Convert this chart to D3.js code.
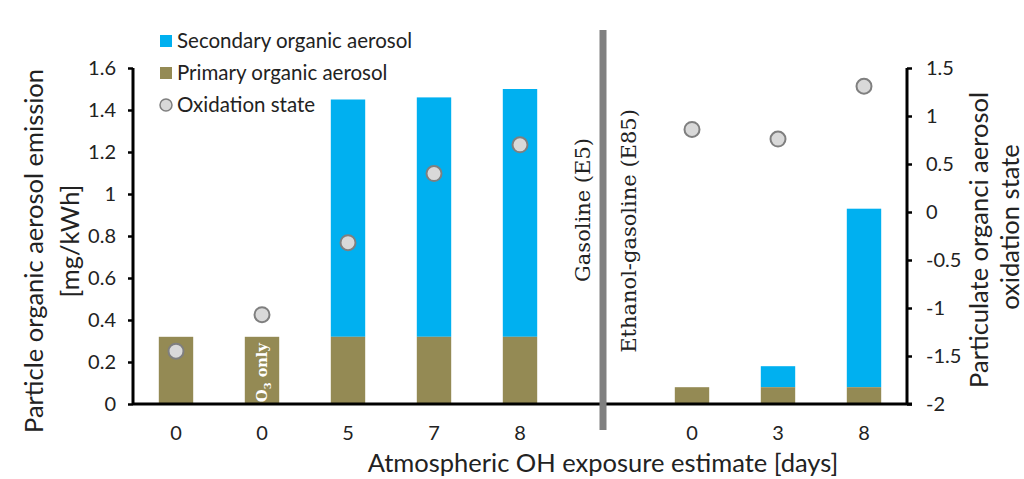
<!DOCTYPE html>
<html><head><meta charset="utf-8">
<script src="https://cdn.jsdelivr.net/npm/d3@7"></script>
<style>body{margin:0;background:#fff}svg{display:block}</style>
</head><body><svg id="c" width="1024" height="479"></svg>
<script>
// ---- data ----
const categories = ["g0a","g0b","g5","g7","g8","gap","e0","e3","e8"];
const tickLabels = ["0","0","5","7","8","","0","3","8"];
const primaryOA   = [0.32,0.32,0.32,0.32,0.32,null,0.08,0.08,0.08];
const totalOA     = [0.32,0.32,1.45,1.46,1.50,null,0.08,0.18,0.93];
const oxidation   = [-1.45,-1.07,-0.32,0.40,0.70,null,0.86,0.76,1.31];
const leftTicks  = [0,0.2,0.4,0.6,0.8,1,1.2,1.4,1.6];
const rightTicks = [-2,-1.5,-1,-0.5,0,0.5,1,1.5];
const legendItems = ["Secondary organic aerosol","Primary organic aerosol","Oxidation state"];

const SOA="#00b0f0", POA="#948a54";
const font="Lato, 'Open Sans', sans-serif";
const serif="'DejaVu Serif', 'Liberation Serif', serif";

const svg=d3.select("#c");
const x0=133,x1=907,yTop=68,yBot=404;
const x=d3.scaleBand().domain(categories).range([x0,x1]).paddingInner(0.6).paddingOuter(0.3);
const y=d3.scaleLinear().domain([0,1.6]).range([yBot,yTop]);
const y2=d3.scaleLinear().domain([-2,1.5]).range([yBot,yTop]);

const idx=d3.range(categories.length).filter(i=>totalOA[i]!==null);
svg.selectAll("rect.soa").data(idx).join("rect").attr("class","soa")
  .attr("x",i=>x(categories[i])).attr("width",x.bandwidth())
  .attr("y",i=>y(totalOA[i])).attr("height",i=>y(primaryOA[i])-y(totalOA[i])).attr("fill",SOA);
svg.selectAll("rect.poa").data(idx).join("rect").attr("class","poa")
  .attr("x",i=>x(categories[i])).attr("width",x.bandwidth())
  .attr("y",i=>y(primaryOA[i])).attr("height",i=>y(0)-y(primaryOA[i])).attr("fill",POA);

// O3 only label
const o3x=x(categories[1])+x.bandwidth()/2+5, o3y=y(0)-2;
const o3=svg.append("text").attr("transform",`translate(${o3x},${o3y}) rotate(-90)`)
  .attr("fill","#fff").attr("font-family",serif).attr("font-weight","bold").attr("font-size",14.5);
o3.append("tspan").text("O");
o3.append("tspan").attr("font-size",10).attr("dy",4).text("3");
o3.append("tspan").attr("dy",-4).text(" only");

// axes
const fmt=d=>String(d);
const yAxis=d3.axisLeft(y).tickValues(leftTicks).tickSize(5).tickPadding(12).tickFormat(fmt);
const gL=svg.append("g").attr("transform",`translate(${x0},0)`).call(yAxis);
const y2Axis=d3.axisRight(y2).tickValues(rightTicks).tickSize(5).tickPadding(14).tickFormat(fmt);
const gR=svg.append("g").attr("transform",`translate(${x1},0)`).call(y2Axis);
const xAxis=d3.axisBottom(x).tickSize(0).tickPadding(22).tickFormat((d,i)=>tickLabels[i]);
const gX=svg.append("g").attr("transform",`translate(0,${yBot})`).call(xAxis);
[gL,gR,gX].forEach(g=>{
  g.selectAll(".domain").attr("stroke","#000").attr("stroke-width",3);
  g.selectAll(".tick line").attr("stroke","#000").attr("stroke-width",2.5);
  g.selectAll("text").attr("font-family",font).attr("font-size",20).attr("fill","#222");
});
gL.select(".domain").attr("d",`M0,${yTop}V${yBot}`);
gR.select(".domain").attr("d",`M0,${yTop}V${yBot}`);
gX.select(".domain").attr("d",`M${x0},0H${x1+5}`);

// divider
const gapC=x("gap")+x.bandwidth()/2-3;
svg.append("rect").attr("x",gapC-3.5).attr("y",30).attr("width",7).attr("height",400).attr("fill","#808080");

// oxidation points
const oi=d3.range(categories.length).filter(i=>oxidation[i]!==null);
svg.selectAll("circle.ox").data(oi).join("circle").attr("class","ox")
  .attr("cx",i=>x(categories[i])+x.bandwidth()/2).attr("cy",i=>y2(oxidation[i]))
  .attr("r",7.5).attr("fill","#d9d9d9").attr("stroke","#7f7f7f").attr("stroke-width",2);

// group labels
svg.append("text").attr("transform",`translate(590,210) rotate(-90)`).attr("text-anchor","middle")
  .attr("font-family",serif).attr("font-size",21).attr("fill","#222").text("Gasoline (E5)");
svg.append("text").attr("transform",`translate(636,231) rotate(-90)`).attr("text-anchor","middle")
  .attr("font-family",serif).attr("font-size",21).attr("fill","#222").text("Ethanol-gasoline (E85)");

// axis titles
const tfs=25.5;
svg.append("text").attr("x",603).attr("y",472).attr("text-anchor","middle")
  .attr("font-family",font).attr("font-size",tfs).attr("fill","#222").text("Atmospheric OH exposure estimate [days]");
svg.append("text").attr("transform","translate(43,251) rotate(-90)").attr("text-anchor","middle")
  .attr("font-family",font).attr("font-size",tfs).attr("fill","#222").text("Particle organic aerosol emission");
svg.append("text").attr("transform","translate(79,241) rotate(-90)").attr("text-anchor","middle")
  .attr("font-family",font).attr("font-size",tfs).attr("fill","#222").text("[mg/kWh]");
svg.append("text").attr("transform","translate(988,240) rotate(-90)").attr("text-anchor","middle")
  .attr("font-family",font).attr("font-size",tfs).attr("fill","#222").text("Particulate organci aerosol");
svg.append("text").attr("transform","translate(1019,227) rotate(-90)").attr("text-anchor","middle")
  .attr("font-family",font).attr("font-size",tfs).attr("fill","#222").text("oxidation state");

// legend
const lg=svg.append("g").attr("transform","translate(160,0)");
const ly=[41,73,105];
legendItems.forEach((t,i)=>{
  if(i<2) lg.append("rect").attr("x",0).attr("y",ly[i]-6).attr("width",12).attr("height",12).attr("fill",i===0?SOA:POA);
  else lg.append("circle").attr("cx",6).attr("cy",ly[i]).attr("r",6).attr("fill","#d9d9d9").attr("stroke","#7f7f7f").attr("stroke-width",1.5);
  lg.append("text").attr("x",17).attr("y",ly[i]).attr("dy","0.35em").attr("font-family",font)
    .attr("font-size",20.5).attr("fill","#222").text(t);
});
</script></body></html>
